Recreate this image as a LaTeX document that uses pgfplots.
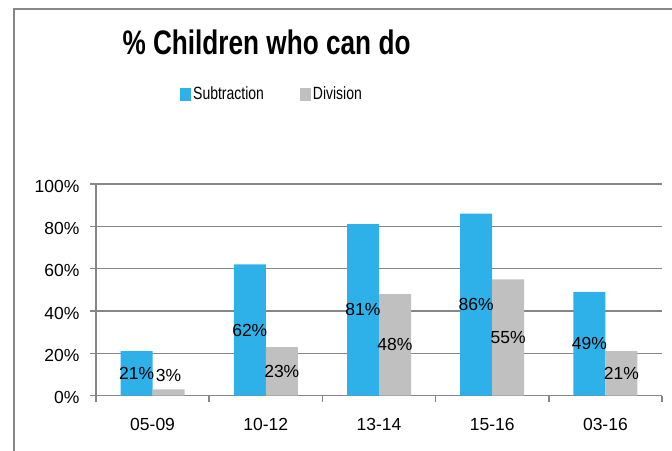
\documentclass[border=0pt]{standalone}
\usepackage{fontspec}
\setmainfont{Liberation Sans}
\newfontfamily\titlefont[FakeStretch=0.77]{Liberation Sans}
\newfontfamily\legendfont[FakeStretch=0.79]{Liberation Sans}
\usepackage{pgfplots}
\pgfplotsset{compat=1.18}
\definecolor{subblue}{HTML}{2EB1E8}
\definecolor{divgray}{HTML}{C0C0C0}
\definecolor{axisgray}{HTML}{868686}
\pgfplotsset{
  sq legend/.style={legend image code/.code={\fill[##1] (0pt,-6.5pt) rectangle (11pt,6.5pt);}},
}
\begin{document}
\begin{tikzpicture}
\useasboundingbox (0,0) rectangle (672pt,450pt);
\clip (0,0) rectangle (672pt,450pt);
% chart frame
\draw[axisgray, line width=2pt] (14pt,-5pt) -- (14pt,441pt) -- (690pt,441pt);
\node[font=\titlefont\fontsize{34}{40}\selectfont\bfseries] at (266.5pt,408pt) {\% Children who can do};
\begin{axis}[
  at={(96pt,54.3pt)}, anchor=south west,
  scale only axis, width=566pt, height=211.7pt,
  ybar=0pt, bar width=32pt,
  xmin=-0.5, xmax=4.5, ymin=0, ymax=100,
  axis x line*=bottom, axis y line*=left,
  axis line style={axisgray, line width=1.5pt, -},
  xtick={-0.5,0.5,...,4.5}, xticklabels={},
  extra x ticks={0,1,2,3,4},
  extra x tick labels={05-09,10-12,13-14,15-16,03-16},
  extra x tick style={major tick length=0pt, grid=none,
    xticklabel style={yshift=-19pt}},
  ytick={0,20,...,100}, yticklabels={0\%,20\%,40\%,60\%,80\%,100\%},
  yticklabel style={xshift=-7pt, yshift=-2pt},
  tick align=outside, major tick length=6pt,
  tick style={axisgray, line width=1.5pt},
  ymajorgrids, grid style={axisgray, line width=1.5pt},
  tick label style={font=\fontsize{17.5}{20}\selectfont},
  /pgf/number format/assume math mode=true,
  legend style={at={(0.311,1.425)}, anchor=center, draw=none, fill=none,
    legend columns=2, font=\legendfont\fontsize{17.7}{20}\selectfont,
    /tikz/every even column/.append style={column sep=34pt}},
  nodes near coords={\pgfmathprintnumber{\pgfplotspointmeta}\%},
  visualization depends on={rawy \as \rawy},
  every node near coord/.append style={anchor=center, text=black,
    font=\fontsize{17.5}{20}\selectfont,
    yshift={(max(1.0585*\rawy,20.5)-2.117*\rawy)*1pt}},
]
\addplot[fill=subblue, draw=none, sq legend] coordinates {(0,21) (1,62) (2,81) (3,86) (4,49)};
\addplot[fill=divgray, draw=none, sq legend] coordinates {(0,3) (1,23) (2,48) (3,55) (4,21)};
\legend{Subtraction, Division}
\end{axis}
\end{tikzpicture}
\end{document}
